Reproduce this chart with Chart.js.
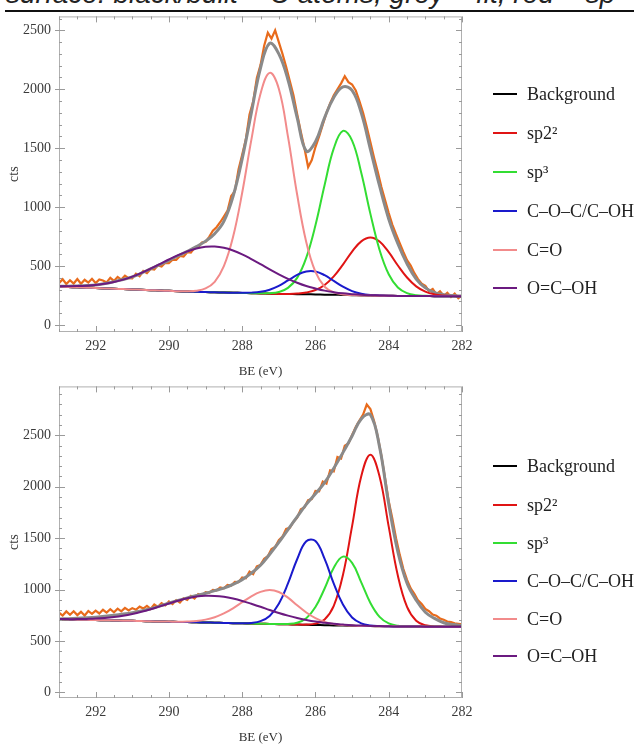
<!DOCTYPE html>
<html><head><meta charset="utf-8">
<script src="https://cdn.jsdelivr.net/npm/chart.js@4.4.1/dist/chart.umd.min.js"></script>
<style>
html,body{margin:0;padding:0;background:#fff;width:634px;height:746px;overflow:hidden;position:relative}
#cap{position:absolute;left:6px;top:-22px;font:italic 28px "Liberation Sans",sans-serif;white-space:nowrap;color:#222}
#rule{position:absolute;left:5px;right:0;top:10px;height:1.5px;background:#111}
canvas{position:absolute;left:0}
.leg{position:absolute;left:493px;top:0;font:18px "Liberation Serif",serif;color:#222}
.row{position:absolute;left:0;height:0;white-space:nowrap}
.row .l{position:absolute;left:0;top:-1.25px;width:24px;height:2.5px}
.row .t{position:absolute;left:34px;top:-10px;line-height:20px}
</style></head><body>
<div id="cap">surface: black/built = C atoms, grey = fit, red = sp</div>
<div id="rule"></div>
<canvas id="c1" width="634" height="380" style="top:0"></canvas>
<canvas id="c2" width="634" height="376" style="top:370px"></canvas>
<div class="leg" id="leg1"></div>
<div class="leg" id="leg2"></div>
<script>
// ---------- DATA ----------
const seriesNames = ["Background", "sp2\u00B2", "sp\u00B3", "C\u2013O\u2013C/C\u2013OH", "C=O", "O=C\u2013OH"];
const xTickLabels = [292, 290, 288, 286, 284, 282];
const yTickLabels = [0, 500, 1000, 1500, 2000, 2500];

// binding energy grid for fitted curves (eV)
const BE = [293,292.75,292.5,292.25,292,291.75,291.5,291.25,291,290.75,290.5,290.25,290,289.75,289.5,289.25,289,288.75,288.5,288.25,288,287.75,287.5,287.25,287,286.75,286.5,286.25,286,285.75,285.5,285.25,285,284.75,284.5,284.25,284,283.75,283.5,283.25,283,282.75,282.5,282.25,282];
// binding energy grid for measured spectrum (eV)
const BE_RAW = [293.0,292.9,292.8,292.7,292.6,292.5,292.4,292.3,292.2,292.1,
 292.0,291.9,291.8,291.7,291.6,291.5,291.4,291.3,291.2,291.1,
 291.0,290.9,290.8,290.7,290.6,290.5,290.4,290.3,290.2,290.1,
 290.0,289.9,289.8,289.7,289.6,289.5,289.4,289.3,289.2,289.1,
 289.0,288.9,288.8,288.7,288.6,288.5,288.4,288.3,288.2,288.1,
 288.0,287.9,287.8,287.7,287.6,287.5,287.4,287.3,287.2,287.1,
 287.0,286.9,286.8,286.7,286.6,286.5,286.4,286.3,286.2,286.1,
 286.0,285.9,285.8,285.7,285.6,285.5,285.4,285.3,285.2,285.1,
 285.0,284.9,284.8,284.7,284.6,284.5,284.4,284.3,284.2,284.1,
 284.0,283.9,283.8,283.7,283.6,283.5,283.4,283.3,283.2,283.1,
 283.0,282.9,282.8,282.7,282.6,282.5,282.4,282.3,282.2,282.1,
 282.0];

// ---- top spectrum ----
const bg1   = [326,323,320,317,314,311,308,305,302,299,296,293,290,287,284,282,280,278,276,274,272,270,268,266,264,263,262,261,260,258,257,255,253,251,250,249,248,247,247,246,246,245,245,245,245];
const sp2_1 = [326,323,320,317,314,311,308,305,302,299,296,293,290,287,284,282,280,278,276,274,272,270,268,266,264,264,267,276,297,340,413,513,623,710,743,708,618,505,403,328,283,260,250,246,245];
const sp3_1 = [326,323,320,317,314,311,308,305,302,299,296,293,290,287,284,282,280,278,276,274,272,270,269,270,280,315,400,572,846,1188,1498,1647,1565,1291,943,637,431,319,271,253,248,245,245,245,245];
const coc1  = [326,323,320,317,314,311,308,305,302,299,296,293,290,287,284,282,280,278,276,274,273,275,282,300,332,378,425,455,455,423,374,325,288,266,255,251,248,247,247,246,246,245,245,245,245];
const co1   = [326,323,320,317,314,311,308,305,302,299,296,293,290,287,286,291,311,367,499,746,1122,1571,1961,2139,2004,1598,1107,702,450,325,277,260,254,251,250,249,248,247,247,246,246,245,245,245,245];
const ocoh1 = [330,330,331,334,340,351,365,385,411,442,478,516,556,593,625,650,664,666,655,632,600,560,517,472,430,392,359,331,310,292,279,269,262,256,253,251,249,247,247,246,246,245,245,245,245];
const fit1  = [328,330,332,335,340,352,368,386,408,440,477,512,548,588,625,665,712,775,880,1090,1410,1800,2180,2390,2300,2080,1760,1475,1555,1760,1930,2020,1990,1800,1490,1180,900,690,520,390,315,275,258,250,246];
const raw1  = [355,388,348,380,352,390,350,384,360,392,
 356,386,378,362,400,374,408,386,418,398,
 396,436,414,458,440,476,470,506,496,528,
 526,554,552,586,580,618,614,654,660,700,
 705,748,800,830,872,920,970,1095,1135,1320,
 1445,1575,1785,1895,2095,2205,2370,2480,2430,2500,
 2400,2300,2190,2070,1950,1790,1640,1500,1340,1400,
 1510,1600,1700,1800,1880,1950,2000,2050,2110,2060,
 2040,1990,1900,1800,1680,1550,1420,1300,1170,1060,
 950,850,770,695,620,550,505,440,390,350,
 332,288,306,262,286,248,274,238,266,228,
 252];

// ---- bottom spectrum ----
const bg2   = [712,710,708,706,704,702,700,698,696,694,692,690,688,686,684,682,680,678,676,674,672,670,668,666,664,662,660,658,656,654,652,650,648,646,645,644,643,642,641,641,640,640,640,640,640];
const sp2_2 = [712,710,708,706,704,702,700,698,696,694,692,690,688,686,684,682,680,678,676,674,672,670,668,666,664,662,660,660,669,710,842,1142,1617,2102,2312,2100,1612,1134,831,697,653,642,640,640,640];
const sp3_2 = [712,710,708,706,704,702,700,698,696,694,692,690,688,686,684,682,680,678,676,674,672,670,668,666,665,666,678,722,830,1011,1213,1321,1260,1071,870,735,671,649,642,641,640,640,640,640,640];
const coc2  = [712,710,708,706,704,702,700,698,696,694,692,690,688,686,684,682,680,678,676,674,673,676,693,744,862,1060,1295,1470,1472,1298,1059,855,729,672,651,645,643,642,641,641,640,640,640,640,640];
const co2   = [712,710,708,706,704,702,700,698,696,694,692,690,689,688,690,695,708,731,768,818,877,935,978,996,977,922,848,777,722,686,665,655,650,646,645,644,643,642,641,641,640,640,640,640,640];
const ocoh2 = [714,713,713,715,718,724,733,746,763,784,809,837,865,892,915,932,940,939,930,913,890,862,833,802,773,747,724,705,689,677,667,660,654,650,647,645,643,642,641,641,640,640,640,640,640];
const fit2  = [714,717,721,726,732,740,750,762,776,793,814,840,868,895,920,942,965,990,1015,1050,1097,1160,1237,1344,1459,1584,1707,1829,1932,2040,2181,2332,2494,2660,2700,2387,1833,1367,1062,898,780,720,678,660,650];
const raw2  = [775,748,788,756,790,752,784,748,792,764,
 796,768,804,776,810,780,814,788,822,798,
 820,804,834,816,842,812,856,832,868,846,
 884,860,898,874,916,900,938,914,956,940,
 975,968,998,992,1022,1012,1045,1040,1075,1072,
 1118,1110,1175,1150,1225,1240,1300,1325,1395,1415,
 1480,1515,1590,1600,1660,1700,1780,1800,1870,1880,
 1960,1955,2050,2030,2160,2150,2290,2275,2400,2420,
 2505,2580,2645,2702,2800,2755,2640,2490,2300,2080,
 1860,1690,1500,1340,1200,1095,1012,960,895,860,
 812,790,758,746,720,706,690,684,672,668,
 662];

// ---------- STYLE ----------
const compColors = ["#000000", "#e01414", "#33dd33", "#1a1acc", "#f28b8b", "#6b1a80"];
const SERIF = '"Liberation Serif", "Times New Roman", serif';

const frameTicks = {
  id: 'frameTicks',
  afterDatasetsDraw(chart) {
    const {ctx, chartArea: a, scales} = chart;
    const x = scales.x, y = scales.y;
    ctx.save();
    ctx.strokeStyle = '#b0b0b0';
    ctx.lineWidth = 1;
    ctx.strokeRect(a.left + 0.5, a.top + 0.5, a.right - a.left - 1, a.bottom - a.top - 1);
    ctx.strokeStyle = '#9a9a9a';
    ctx.beginPath();
    for (let k = 0; k <= 22; k++) {
      const v = 282 + k * 0.5;
      const px = Math.round(x.getPixelForValue(v)) + 0.5;
      const L = (k % 4 === 0) ? 6 : 3;
      ctx.moveTo(px, a.bottom); ctx.lineTo(px, a.bottom - L);
      ctx.moveTo(px, a.top); ctx.lineTo(px, a.top + L);
    }
    for (let v = 0; v <= y.max; v += 100) {
      const py = Math.round(y.getPixelForValue(v)) + 0.5;
      const L = (v % 500 === 0) ? 6 : 3;
      ctx.moveTo(a.left, py); ctx.lineTo(a.left + L, py);
      ctx.moveTo(a.right, py); ctx.lineTo(a.right - L, py);
      if (v % 500 === 0) { ctx.moveTo(a.left, py); ctx.lineTo(a.left - 4, py); }
    }
    ctx.stroke();
    ctx.restore();
  }
};

function pts(xs, ys) { return xs.map((v, i) => ({x: v, y: ys[i]})); }

function makeChart(id, comps, fit, raw, yMin, yMax, padTop) {
  const datasets = [];
  for (let i = comps.length - 1; i >= 0; i--) {
    datasets.push({label: seriesNames[i], data: pts(BE, comps[i]), borderColor: compColors[i],
      borderWidth: 2, tension: 0.4, pointRadius: 0, fill: false});
  }
  datasets.push({label: 'fit', data: pts(BE, fit), borderColor: '#8a8a8a', borderWidth: 3, tension: 0.4, pointRadius: 0, fill: false});
  datasets.push({label: 'data', data: pts(BE_RAW, raw), borderColor: 'rgb(232,107,28)', borderWidth: 2.2, tension: 0, pointRadius: 0, fill: false});
  return new Chart(document.getElementById(id), {
    type: 'line',
    data: {datasets},
    options: {
      responsive: false, animation: false, devicePixelRatio: 1,
      layout: {padding: {top: padTop, right: 172, left: 0, bottom: 0}},
      plugins: {legend: {display: false}, tooltip: {enabled: false}},
      scales: {
        x: {type: 'linear', reverse: true, min: 282, max: 293,
          afterFit(s) { s.height = 48; },
          afterBuildTicks(s) { s.ticks = xTickLabels.map(v => ({value: v})); },
          grid: {display: false, drawTicks: false}, border: {display: false},
          ticks: {padding: 6, color: '#3a3a3a', font: {family: SERIF, size: 14}, maxRotation: 0, autoSkip: false,
            callback: v => String(v)},
          title: {display: true, text: 'BE (eV)', color: '#333', font: {family: SERIF, size: 13}, padding: {top: 0, bottom: 1}}},
        y: {type: 'linear', min: yMin, max: yMax,
          afterFit(s) { s.width = 59; },
          afterBuildTicks(s) { s.ticks = yTickLabels.map(v => ({value: v})); },
          grid: {display: false, drawTicks: false}, border: {display: false},
          ticks: {padding: 8, color: '#3a3a3a', font: {family: SERIF, size: 14}, callback: v => String(v)},
          title: {display: true, text: 'cts', color: '#333', font: {family: SERIF, size: 14}, padding: {top: 6, bottom: 0}}}
      }
    },
    plugins: [frameTicks]
  });
}

makeChart('c1', [bg1, sp2_1, sp3_1, coc1, co1, ocoh1], fit1, raw1, -59, 2618, 14);
makeChart('c2', [bg2, sp2_2, sp3_2, coc2, co2, ocoh2], fit2, raw2, -54, 2976, 15);

function buildLegend(id, ys) {
  const el = document.getElementById(id);
  seriesNames.forEach((name, i) => {
    const row = document.createElement('div');
    row.className = 'row';
    row.style.top = ys[i] + 'px';
    const l = document.createElement('span'); l.className = 'l'; l.style.background = compColors[i];
    const t = document.createElement('span'); t.className = 't'; t.textContent = name;
    row.appendChild(l); row.appendChild(t); el.appendChild(row);
  });
}
buildLegend('leg1', [94, 133, 172, 211, 250, 288]);
buildLegend('leg2', [466, 505, 543, 581, 619, 656]);
</script>
</body></html>
